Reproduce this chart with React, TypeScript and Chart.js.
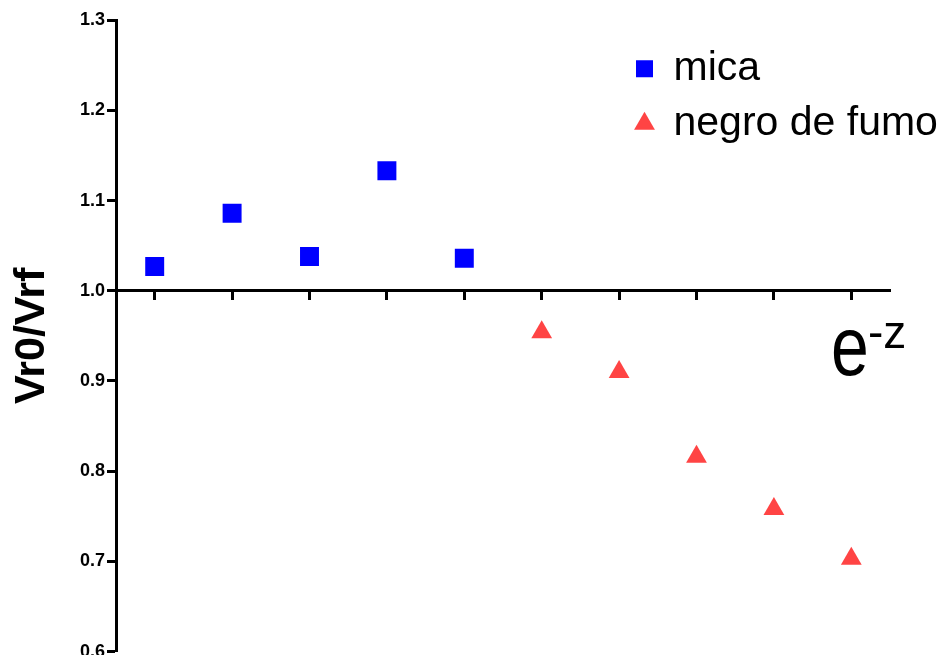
import { useEffect, useRef } from 'react';
import { Chart, registerables } from 'chart.js';

Chart.register(...registerables);

// ---- data ----
const xCategories = [1, 2, 3, 4, 5, 6, 7, 8, 9, 10];
const micaX = [1, 2, 3, 4, 5];
const micaY = [1.027, 1.086, 1.038, 1.133, 1.036];
const negroX = [6, 7, 8, 9, 10];
const negroY = [0.954, 0.91, 0.816, 0.758, 0.703];
const yTicks = [0.6, 0.7, 0.8, 0.9, 1.0, 1.1, 1.2, 1.3];
const seriesLabels = ['mica', 'negro de fumo'];
const yTitle = 'Vr0/Vrf';
const xTitleBase = 'e';
const xTitleSup = '-z';

const FONT = '"Liberation Sans", Arial, Helvetica, sans-serif';

const legendPlacer = {
  id: 'legendPlacer',
  afterLayout(chart: any) {
    const lg = chart.legend;
    if (!lg) return;
    const ca = chart.chartArea;
    const left = ca.right - 268;
    const top = ca.top + 14;
    lg.left = left;
    lg.top = top;
    lg.width = 330;
    lg.height = 200;
    lg.right = left + 330;
    lg.bottom = top + 200;
  },
};

const xAxisTitle = {
  id: 'xAxisTitle',
  afterDraw(chart: any) {
    const ctx = chart.ctx;
    const ca = chart.chartArea;
    const y1 = chart.scales.y.getPixelForValue(1.0);
    ctx.save();
    ctx.fillStyle = '#000';
    ctx.textAlign = 'left';
    ctx.textBaseline = 'alphabetic';
    ctx.save();
    ctx.translate(ca.right - 59, y1 + 84.5);
    ctx.scale(1, 1.22);
    ctx.font = `68px ${FONT}`;
    ctx.fillText(xTitleBase, 0, 0);
    ctx.restore();
    ctx.font = `46px ${FONT}`;
    ctx.fillText(xTitleSup, ca.right - 22, y1 + 57);
    ctx.restore();
  },
};

export default function App() {
  const ref = useRef<HTMLCanvasElement | null>(null);

  useEffect(() => {
    if (!ref.current) return;
    const chart = new Chart(ref.current, {
      type: 'scatter',
      data: {
        datasets: [
          {
            label: seriesLabels[0],
            data: micaX.map((x, i) => ({ x, y: micaY[i] })),
            pointStyle: 'rect',
            pointRadius: 13.4,
            pointHoverRadius: 13.4,
            backgroundColor: '#0000FF',
            borderColor: '#0000FF',
            pointBorderWidth: 0,
          },
          {
            label: seriesLabels[1],
            data: negroX.map((x, i) => ({ x, y: negroY[i] })),
            pointStyle: 'triangle',
            pointRadius: 12,
            pointHoverRadius: 12,
            backgroundColor: '#FF4444',
            borderColor: '#FF4444',
            pointBorderWidth: 0,
          },
        ],
      },
      options: {
        responsive: false,
        animation: false,
        events: [],
        layout: { padding: { top: 20.2, bottom: 4, left: 0, right: 53 } },
        plugins: {
          tooltip: { enabled: false },
          legend: {
            position: 'chartArea' as any,
            align: 'start',
            fullSize: false,
            labels: {
              usePointStyle: true,
              boxWidth: 17,
              boxHeight: 17,
              padding: 14,
              color: '#000',
              font: { family: FONT, size: 41 },
            },
          },
        },
        scales: {
          x: {
            type: 'linear',
            min: 0.5,
            max: 10.5,
            position: { y: 1.0 } as any,
            afterBuildTicks: (s: any) => {
              s.ticks = xCategories.map((v) => ({ value: v }));
            },
            ticks: { display: false },
            grid: {
              drawOnChartArea: false,
              drawTicks: true,
              tickLength: 8,
              tickWidth: 3,
              tickColor: '#000',
            },
            border: { display: true, width: 3, color: '#000' },
          },
          y: {
            type: 'linear',
            min: 0.6,
            max: 1.3,
            position: 'left',
            afterFit: (s: any) => {
              s.width = 116;
            },
            afterBuildTicks: (s: any) => {
              s.ticks = yTicks.map((v) => ({ value: v }));
            },
            ticks: {
              padding: 2,
              color: '#000',
              font: { family: FONT, size: 18, weight: 'bold' },
              callback: (v: any) => Number(v).toFixed(1),
            },
            grid: {
              drawOnChartArea: false,
              tickLength: 9,
              tickWidth: 3,
              tickColor: '#000',
            },
            border: { display: true, width: 3, color: '#000' },
            title: {
              display: true,
              text: yTitle,
              color: '#000',
              font: { family: FONT, size: 43, weight: 'bold' },
              padding: { top: 6, bottom: 0 },
            },
          },
        },
      },
      plugins: [legendPlacer, xAxisTitle],
    });
    return () => chart.destroy();
  }, []);

  return (
    <div style={{ position: 'fixed', left: 0, top: 0, width: 943, height: 665, background: '#fff' }}>
      <canvas ref={ref} width={943} height={665} style={{ display: 'block' }} />
    </div>
  );
}
